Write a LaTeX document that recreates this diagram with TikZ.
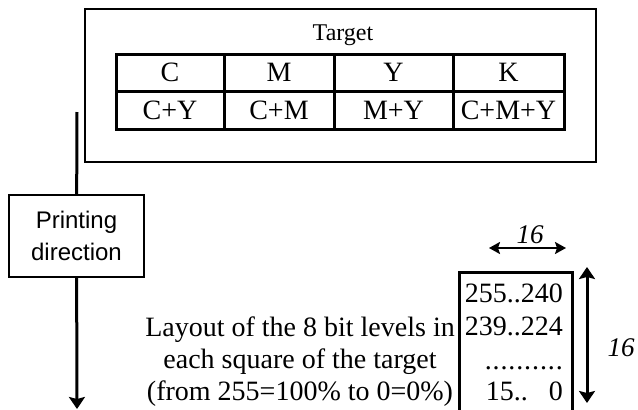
\documentclass[tikz,border=0pt]{standalone}
\usepackage{fontspec}
\setmainfont{Liberation Serif}
\setsansfont{Liberation Sans}
\usetikzlibrary{arrows.meta}

\tikzset{
  frame/.style={draw, line width=2pt},
  cell/.style={draw, line width=3pt, minimum height=37.5pt, inner sep=0pt,
    font=\fontsize{28}{32}\selectfont},
  serif/.style={inner sep=0pt, font=\fontsize{28}{32}\selectfont},
  dim/.style={inner sep=0pt, font=\fontsize{27}{30}\selectfont\itshape},
  bigtip/.style={-{Stealth[length=12pt,width=16pt,inset=2pt]}},
  bothtip/.style={{Stealth[length=12pt,width=16pt,inset=2pt]}-{Stealth[length=12pt,width=16pt,inset=2pt]}},
  smalltip/.style={{Stealth[length=11pt,width=12pt,inset=2pt]}-{Stealth[length=11pt,width=12pt,inset=2pt]}},
}

\begin{document}
\begin{tikzpicture}[x=1pt,y=-1pt]
\useasboundingbox (0,0) rectangle (638,410);

% outer target frame
\draw[frame] (85,9) rectangle (596,162);
\node[inner sep=0pt, font=\fontsize{24}{28}\selectfont] (title) at (343,35) {Target};

% colour table
\node[cell, minimum width=108pt] (c1) at (170,72.75) {C};
\node[cell, minimum width=110pt] (c2) at (279,72.75) {M};
\node[cell, minimum width=119pt] (c3) at (393.5,72.75) {Y};
\node[cell, minimum width=111pt] (c4) at (508.5,72.75) {K};
\node[cell, minimum width=108pt] (d1) at (170,110.25) {C+Y};
\node[cell, minimum width=110pt] (d2) at (279,110.25) {C+M};
\node[cell, minimum width=119pt] (d3) at (393.5,110.25) {M+Y};
\node[cell, minimum width=111pt] (d4) at (508.5,110.25) {C+M+Y};

% printing direction
\coordinate (ptop) at (77,112);
\coordinate (pbot) at (77,409);
\node[frame, minimum width=135pt, minimum height=82pt, inner sep=0pt, align=center,
  font=\sffamily\fontsize{24}{32}\selectfont] (pd) at (76.5,236) {Printing\\direction};
\draw[line width=3pt] (ptop) -- (pd);
\draw[line width=3pt, bigtip] (pd) -- (pbot);

% explanation
\node[serif, anchor=base] (la) at (300,336) {Layout of the 8 bit levels in};
\node[serif, anchor=base] (lb) at (300,368) {each square of the target};
\node[serif, anchor=base] (lc) at (300,400) {(from 255=100\% to 0=0\%)};

% one square of the target
\node[draw, line width=3pt, minimum width=113pt, minimum height=145pt, inner sep=0pt,
  anchor=north west] (sq) at (458,271) {};
\node[serif, anchor=base east] (r1) at (563,302) {255..240};
\node[serif, anchor=base east] (r2) at (563,335) {239..224};
\node[serif, anchor=base east] (r3) at (563,369)
  {\makebox[78pt][s]{.\hfil.\hfil.\hfil.\hfil.\hfil.\hfil.\hfil.\hfil.\hfil.}};
\node[serif, anchor=base east] (r4) at (563,400) {15..\hspace{21pt}0};

% dimensions
\coordinate (hl) at (489,248);
\coordinate (hr) at (566,248);
\draw[line width=2pt, smalltip] (hl) -- (hr);
\node[dim] (w) at (530,235) {16};
\coordinate (vt) at (587,267);
\coordinate (vb) at (587,403);
\draw[line width=3pt, bothtip] (vt) -- (vb);
\node[dim] (h) at (621,348) {16};
\end{tikzpicture}
\end{document}
